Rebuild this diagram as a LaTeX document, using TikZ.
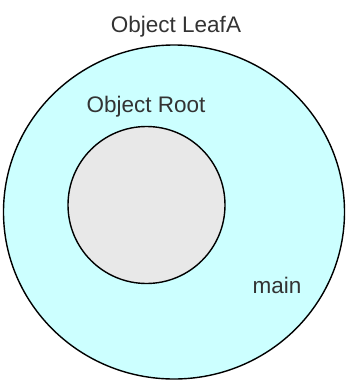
\documentclass[tikz,border=0pt]{standalone}
\usepackage{fontspec}
\setmainfont{Liberation Sans}
\usetikzlibrary{shapes.geometric}
\definecolor{leafcol}{HTML}{CCFFFF}
\definecolor{rootcol}{HTML}{E8E8E8}
\definecolor{txtcol}{HTML}{333333}
\tikzset{
  region/.style={draw=black, line width=1.4pt, inner sep=0pt, outer sep=0pt},
  lbl/.style={text=txtcol, anchor=base, inner sep=0pt, font=\fontsize{22.5}{27}\selectfont}
}
\begin{document}
\begin{tikzpicture}[x=1pt,y=-1pt]
\useasboundingbox (0,0) rectangle (347,381);
\node[region, ellipse, fill=leafcol, minimum width=341pt, minimum height=334pt] (leafA) at (174,212) {};
\node[region, circle, fill=rootcol, minimum size=157pt] (root) at (146.5,205) {};
\node[lbl] (leafAlbl) at (176,32) {Object LeafA};
\node[lbl] (rootlbl) at (146,112) {Object Root};
\node[lbl] (mainlbl) at (277,293) {main};
\end{tikzpicture}
\end{document}
